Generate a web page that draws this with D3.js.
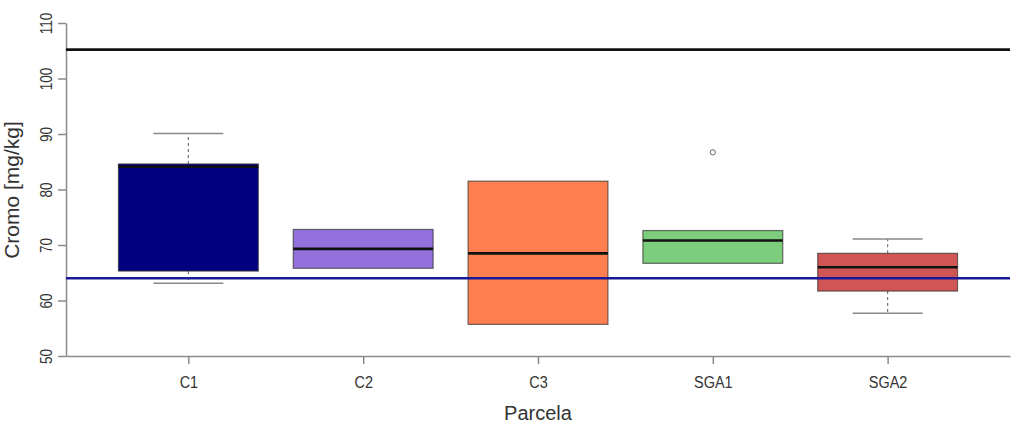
<!DOCTYPE html>
<html>
<head>
<meta charset="utf-8">
<script src="https://cdn.jsdelivr.net/npm/d3@7/dist/d3.min.js"></script>
<style>
  html, body { margin: 0; padding: 0; background: #fff; }
  svg { display: block; font-family: "Liberation Sans", Arial, sans-serif; }
</style>
</head>
<body>
<svg id="chart" width="1014" height="442"></svg>
<script>
// Chromium concentration by plot (parcela), mg/kg
const categories = ["C1", "C2", "C3", "SGA1", "SGA2"];
const whiskerLow  = [63.1, 65.8, 55.7, 66.7, 57.7];
const boxLow      = [65.3, 65.8, 55.7, 66.7, 61.7];
const medians     = [84.1, 69.3, 68.5, 70.8, 66.0];
const boxHigh     = [84.6, 72.8, 81.5, 72.6, 68.5];
const whiskerHigh = [90.1, 72.8, 81.5, 72.6, 71.1];
const outliers    = [[], [], [], [86.7], []];
const fills       = ["#000080", "#9370DB", "#FF7F50", "#7CCD7C", "#D05555"];
const yTicks      = [50, 60, 70, 80, 90, 100, 110];
const upperLimit  = 105.2;
const lowerLimit  = 64.0;

const svg = d3.select("#chart");
const plot = { left: 66, right: 1010, top: 23, bottom: 356 };

// Positions 1..5 with R-style padding (xlim 0.3..5.7)
const x = d3.scaleLinear().domain([0.3, 5.7]).range([plot.left, plot.right]);
const y = d3.scaleLinear().domain([50, 110]).range([plot.bottom, plot.top]);
const boxW = x(1.4) - x(1);
const capW = boxW / 2;

const axisColor = "#8a8a8a";
const textColor = "#333";

// Y axis
const yAxis = svg.append("g").attr("transform", `translate(${plot.left},0)`)
  .call(d3.axisLeft(y).tickValues(yTicks).tickSize(8).tickSizeOuter(0).tickFormat(d3.format("d")));
yAxis.select(".domain").attr("stroke", axisColor).attr("stroke-width", 1.5);
yAxis.selectAll(".tick line").attr("stroke", axisColor).attr("stroke-width", 1.5);
yAxis.selectAll(".tick text")
  .attr("fill", textColor).attr("font-size", 16)
  .attr("x", 0).attr("y", 0).attr("dx", 0).attr("dy", 0)
  .attr("text-anchor", "middle")
  .attr("transform", "translate(-14,0) rotate(-90) scale(0.85,1)");

// X axis
const xAxis = svg.append("g").attr("transform", `translate(0,${plot.bottom})`)
  .call(d3.axisBottom(x).tickValues(d3.range(1, categories.length + 1)).tickSize(8).tickSizeOuter(0)
    .tickFormat((d) => categories[d - 1]));
xAxis.select(".domain").attr("stroke", axisColor).attr("stroke-width", 1.5);
xAxis.selectAll(".tick line").attr("stroke", axisColor).attr("stroke-width", 1.5);
xAxis.selectAll(".tick text")
  .attr("fill", textColor).attr("font-size", 17)
  .attr("y", 0).attr("dy", 0)
  .attr("transform", "translate(0,32) scale(0.85,1)");

// Axis titles
svg.append("text")
  .attr("transform", "translate(19,190) rotate(-90)")
  .attr("text-anchor", "middle").attr("font-size", 21).attr("fill", textColor)
  .text("Cromo [mg/kg]");
svg.append("text")
  .attr("x", x(3)).attr("y", 420)
  .attr("text-anchor", "middle").attr("font-size", 20).attr("fill", textColor)
  .text("Parcela");

// Boxes
const groups = svg.append("g").selectAll("g").data(categories).join("g");

groups.each(function (c, i) {
  const g = d3.select(this);
  const cx = x(i + 1);
  // whiskers
  if (whiskerHigh[i] > boxHigh[i]) {
    g.append("line").attr("x1", cx).attr("x2", cx).attr("y1", y(boxHigh[i])).attr("y2", y(whiskerHigh[i]))
      .attr("stroke", "#777").attr("stroke-width", 1.2).attr("stroke-dasharray", "3,3");
    g.append("line").attr("x1", cx - capW).attr("x2", cx + capW)
      .attr("y1", y(whiskerHigh[i])).attr("y2", y(whiskerHigh[i]))
      .attr("stroke", "#888").attr("stroke-width", 1.5);
  }
  if (whiskerLow[i] < boxLow[i]) {
    g.append("line").attr("x1", cx).attr("x2", cx).attr("y1", y(boxLow[i])).attr("y2", y(whiskerLow[i]))
      .attr("stroke", "#777").attr("stroke-width", 1.2).attr("stroke-dasharray", "3,3");
    g.append("line").attr("x1", cx - capW).attr("x2", cx + capW)
      .attr("y1", y(whiskerLow[i])).attr("y2", y(whiskerLow[i]))
      .attr("stroke", "#888").attr("stroke-width", 1.5);
  }
  // box
  g.append("rect")
    .attr("x", cx - boxW).attr("width", boxW * 2)
    .attr("y", y(boxHigh[i])).attr("height", y(boxLow[i]) - y(boxHigh[i]))
    .attr("fill", fills[i]).attr("stroke", "#333").attr("stroke-opacity", 0.7).attr("stroke-width", 1.2);
  // median
  g.append("line").attr("x1", cx - boxW).attr("x2", cx + boxW)
    .attr("y1", y(medians[i])).attr("y2", y(medians[i]))
    .attr("stroke", "#111").attr("stroke-width", 2.6);
  // outliers
  g.selectAll("circle").data(outliers[i]).join("circle")
    .attr("cx", cx).attr("cy", (d) => y(d)).attr("r", 2.6)
    .attr("fill", "none").attr("stroke", "#666").attr("stroke-width", 1);
});

// Reference limits
svg.append("line").attr("x1", plot.left).attr("x2", plot.right)
  .attr("y1", y(upperLimit)).attr("y2", y(upperLimit))
  .attr("stroke", "#111").attr("stroke-width", 2.6);
svg.append("line").attr("x1", plot.left).attr("x2", plot.right)
  .attr("y1", y(lowerLimit)).attr("y2", y(lowerLimit))
  .attr("stroke", "#1a1a96").attr("stroke-width", 2.6);
</script>
</body>
</html>
